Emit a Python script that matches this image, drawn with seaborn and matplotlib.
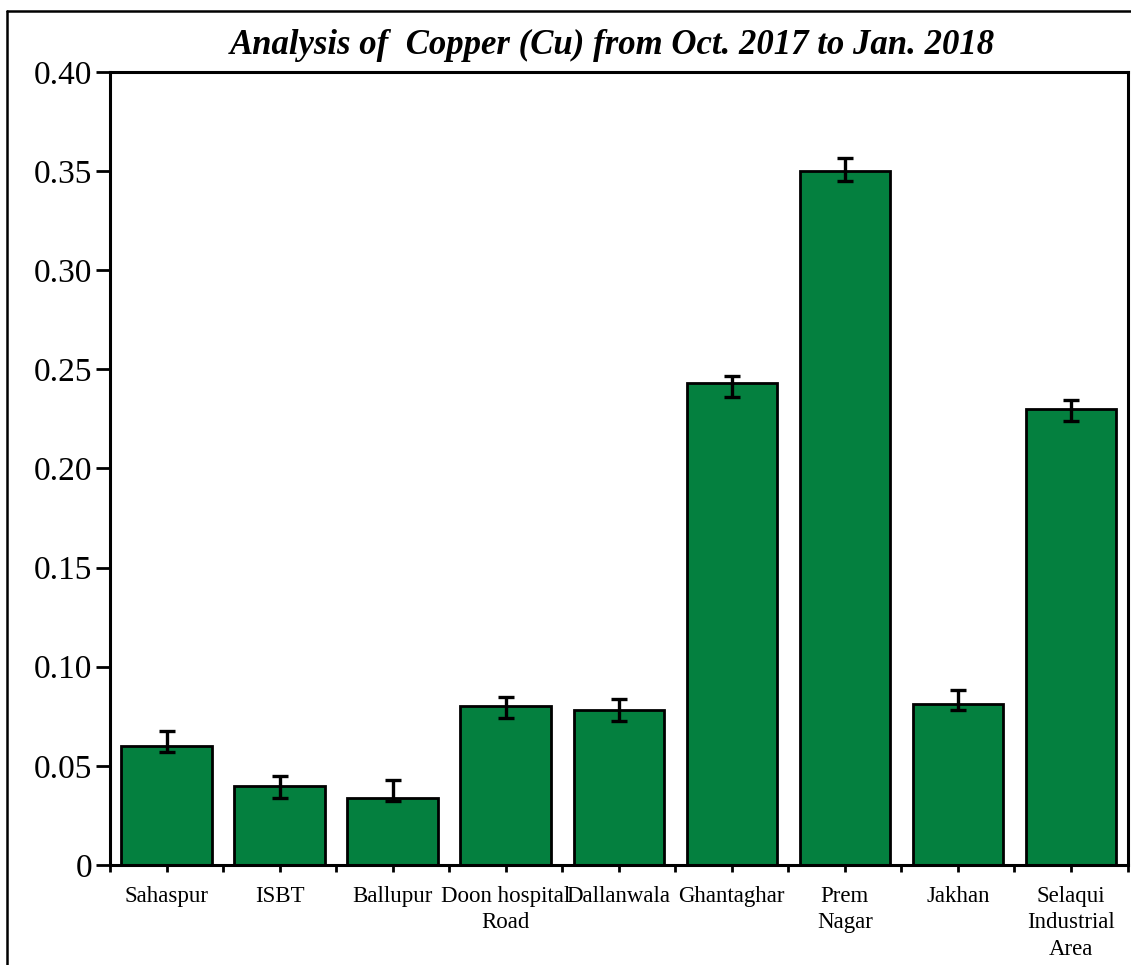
import matplotlib
matplotlib.use("Agg")
import matplotlib.pyplot as plt
import seaborn as sns
import numpy as np
import pandas as pd
from matplotlib.lines import Line2D
from matplotlib.ticker import FixedLocator

# ---- data ----
sites = ["Sahaspur", "ISBT", "Ballupur", "Doon hospital\nRoad", "Dallanwala",
         "Ghantaghar", "Prem\nNagar", "Jakhan", "Selaqui\nIndustrial\nArea"]
copper = [0.060, 0.040, 0.034, 0.080, 0.078, 0.243, 0.350, 0.081, 0.230]
err_low = [0.003, 0.006, 0.0015, 0.006, 0.0055, 0.007, 0.005, 0.003, 0.006]
err_high = [0.0075, 0.005, 0.009, 0.0045, 0.0055, 0.0035, 0.0065, 0.0075, 0.0045]
ytick_vals = [0, 0.05, 0.10, 0.15, 0.20, 0.25, 0.30, 0.35, 0.40]
ytick_labels = ["0", "0.05", "0.10", "0.15", "0.20", "0.25", "0.30", "0.35", "0.40"]
title = "Analysis of  Copper (Cu) from Oct. 2017 to Jan. 2018"

sns.set_style("ticks")
plt.rcParams["font.family"] = ["Liberation Serif", "DejaVu Serif"]
plt.rcParams["text.color"] = "black"

df = pd.DataFrame({"site": sites, "cu": copper})

fig = plt.figure(figsize=(11.31, 9.65), dpi=100)
ax = fig.add_axes([110 / 1131, 1 - 865 / 965, (1127.5 - 110) / 1131, (865 - 72) / 965])

sns.barplot(data=df, x="site", y="cu", color="#04803F", saturation=1,
            edgecolor="black", linewidth=2, width=0.8, errorbar=None, ax=ax)

xpos = np.arange(len(sites))
ax.errorbar(xpos, copper, yerr=[err_low, err_high], fmt="none", ecolor="black",
            elinewidth=2.4, capsize=5.5, capthick=2.4, zorder=5)

ax.set_xlim(-0.5, len(sites) - 0.5)
ax.set_ylim(0, 0.40)
ax.set_yticks(ytick_vals)
ax.set_yticklabels(ytick_labels, fontsize=24)
ax.set_xticks(xpos)
ax.set_xticklabels(sites, fontsize=16.5, linespacing=1.35)
ax.xaxis.set_minor_locator(FixedLocator(np.arange(-0.5, len(sites), 1.0)))
ax.tick_params(axis="y", direction="out", length=10, width=2, pad=3, colors="black")
ax.tick_params(axis="x", which="both", direction="out", length=5, width=2, pad=10, colors="black")
ax.set_xlabel("")
ax.set_ylabel("")
for s in ax.spines.values():
    s.set_visible(True)
    s.set_linewidth(2.2)
    s.set_color("black")

fig.text(0.541, 1 - 45 / 965, title, ha="center", va="center", fontsize=25,
         fontweight="bold", fontstyle="italic", color="black")

# outer frame lines (top and left)
fig.add_artist(Line2D([7 / 1131, 1.0], [1 - 11 / 965, 1 - 11 / 965], color="black", lw=1.8,
                      transform=fig.transFigure))
fig.add_artist(Line2D([7 / 1131, 7 / 1131], [0.0, 1 - 11 / 965], color="black", lw=1.8,
                      transform=fig.transFigure))

fig.savefig("out.png", dpi=100)
